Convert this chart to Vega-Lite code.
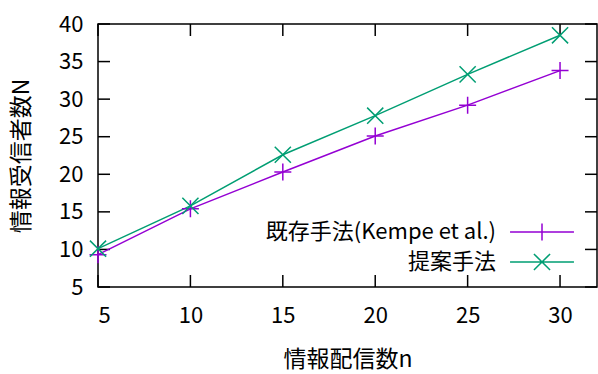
{
  "$schema": "https://vega.github.io/schema/vega-lite/v6.json",
  "width": 499,
  "height": 263,
  "autosize": {"type": "none"},
  "padding": {"left": 98, "top": 24, "right": 1, "bottom": 87},
  "background": "white",
  "config": {
    "view": {"stroke": "#000", "strokeWidth": 1.5},
    "font": "Noto Sans CJK JP",
    "axis": {"domain": false, "ticks": false, "grid": false, "labelColor": "#000", "titleColor": "#000", "labelFont": "Noto Sans CJK JP", "titleFont": "Noto Sans CJK JP", "labelFontSize": 22, "titleFontSize": 23, "titleFontWeight": "normal"}
  },
  "datasets": {
    "xticks": [{"v": 5}, {"v": 10}, {"v": 15}, {"v": 20}, {"v": 25}, {"v": 30}],
    "yticks": [{"v": 5}, {"v": 10}, {"v": 15}, {"v": 20}, {"v": 25}, {"v": 30}, {"v": 35}, {"v": 40}]
  },
  "data": {
    "values": [
      {"n": 5, "N": 9.3, "method": "既存手法(Kempe et al.)"},
      {"n": 10, "N": 15.4, "method": "既存手法(Kempe et al.)"},
      {"n": 15, "N": 20.3, "method": "既存手法(Kempe et al.)"},
      {"n": 20, "N": 25.1, "method": "既存手法(Kempe et al.)"},
      {"n": 25, "N": 29.2, "method": "既存手法(Kempe et al.)"},
      {"n": 30, "N": 33.8, "method": "既存手法(Kempe et al.)"},
      {"n": 5, "N": 10.1, "method": "提案手法"},
      {"n": 10, "N": 15.8, "method": "提案手法"},
      {"n": 15, "N": 22.6, "method": "提案手法"},
      {"n": 20, "N": 27.8, "method": "提案手法"},
      {"n": 25, "N": 33.3, "method": "提案手法"},
      {"n": 30, "N": 38.5, "method": "提案手法"}
    ]
  },
  "resolve": {"axis": {"x": "independent", "y": "independent"}},
  "layer": [
    {
      "data": {"name": "xticks"},
      "mark": {"type": "rule", "stroke": "#000000", "strokeWidth": 1.5, "opacity": 1},
      "encoding": {
        "x": {"field": "v", "type": "quantitative", "axis": null},
        "y": {"datum": 5, "type": "quantitative", "axis": null},
        "y2": {"datum": 6.6}
      }
    },
    {
      "data": {"name": "xticks"},
      "mark": {"type": "rule", "stroke": "#000000", "strokeWidth": 1.5, "opacity": 1},
      "encoding": {
        "x": {"field": "v", "type": "quantitative", "axis": null},
        "y": {"datum": 38.4, "type": "quantitative", "axis": null},
        "y2": {"datum": 40}
      }
    },
    {
      "data": {"name": "yticks"},
      "mark": {"type": "rule", "stroke": "#000000", "strokeWidth": 1.5, "opacity": 1},
      "encoding": {
        "y": {"field": "v", "type": "quantitative", "axis": null},
        "x": {"datum": 5, "type": "quantitative", "axis": null},
        "x2": {"datum": 5.65}
      }
    },
    {
      "data": {"name": "yticks"},
      "mark": {"type": "rule", "stroke": "#000000", "strokeWidth": 1.5, "opacity": 1},
      "encoding": {
        "y": {"field": "v", "type": "quantitative", "axis": null},
        "x": {"datum": 31.35, "type": "quantitative", "axis": null},
        "x2": {"datum": 32}
      }
    },
    {
      "mark": {"type": "line", "strokeWidth": 1.5},
      "encoding": {
        "x": {"field": "n", "type": "quantitative", "scale": {"domain": [5, 32], "nice": false, "zero": false},
          "axis": {"orient": "bottom", "values": [5, 10, 15, 20, 25, 30], "labelPadding": 18, "title": "情報配信数n", "titlePadding": 22}},
        "y": {"field": "N", "type": "quantitative", "scale": {"domain": [5, 40], "nice": false, "zero": false},
          "axis": {"orient": "left", "values": [5, 10, 15, 20, 25, 30, 35, 40], "labelPadding": 15, "title": "情報受信者数N", "titlePadding": 25}},
        "color": {"field": "method", "type": "nominal", "scale": {"domain": ["既存手法(Kempe et al.)", "提案手法"], "range": ["#9400D3", "#009E73"]},
          "legend": {"title": null, "orient": "none", "legendX": 433, "legendY": 197, "padding": 0, "rowPadding": 6, "labelFontSize": 22, "labelColor": "#000", "labelFont": "Noto Sans CJK JP", "labelAlign": "right", "labelOffset": -57, "labelLimit": 400, "symbolSize": 289, "symbolStrokeWidth": 1.5,
            "encode": {"symbols": {"update": {"shape": {"signal": "datum.value === '提案手法' ? 'M-3.76,0H3.76M-0.95,-0.95L0.95,0.95M-0.95,0.95L0.95,-0.95' : 'M-3.76,0H3.76M0,-1V1'"}, "fill": {"value": "transparent"}, "strokeWidth": {"value": 1.5}}}}}}
      }
    },
    {
      "transform": [{"filter": "datum.method === '既存手法(Kempe et al.)'"}],
      "mark": {"type": "point", "filled": false, "strokeWidth": 1.5, "size": 289, "opacity": 1, "shape": "M-1,0H1M0,-1V1"},
      "encoding": {
        "x": {"field": "n", "type": "quantitative", "axis": null},
        "y": {"field": "N", "type": "quantitative", "axis": null},
        "color": {"field": "method", "type": "nominal"}
      }
    },
    {
      "transform": [{"filter": "datum.method === '提案手法'"}],
      "mark": {"type": "point", "filled": false, "strokeWidth": 1.5, "size": 289, "opacity": 1, "shape": "M-0.95,-0.95L0.95,0.95M-0.95,0.95L0.95,-0.95"},
      "encoding": {
        "x": {"field": "n", "type": "quantitative", "axis": null},
        "y": {"field": "N", "type": "quantitative", "axis": null},
        "color": {"field": "method", "type": "nominal"}
      }
    }
  ]
}
